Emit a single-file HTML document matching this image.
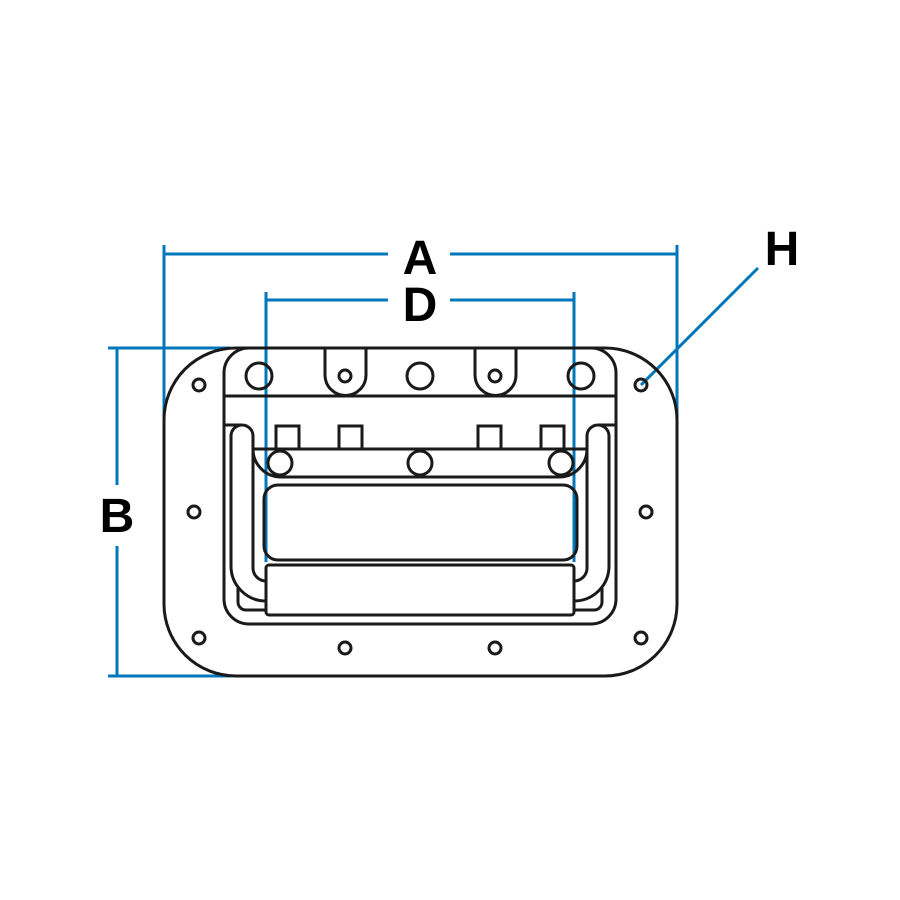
<!DOCTYPE html>
<html><head><style>html,body{margin:0;padding:0;background:#fff}svg{display:block}</style></head>
<body>
<svg width="900" height="900" viewBox="0 0 900 900" xmlns="http://www.w3.org/2000/svg">
<g fill="none" stroke="#0077bb" stroke-width="3">
<path d="M164 245V420M677 245V420M164 254H388M450 254H677"/>
<path d="M266 292V562M574 292V562M266 300H388M450 300H574"/>
<path d="M108 348H230M108 676H230M117 348V485M117 546V676"/>
<path d="M641 385L758 268"/>
</g>
<g font-family="'Liberation Sans',sans-serif" font-weight="bold" font-size="48" fill="#000" text-anchor="middle">
<text x="420" y="274">A</text>
<text x="420" y="321">D</text>
<text x="117" y="532">B</text>
<text x="782" y="265">H</text>
</g>
<g fill="none" stroke="#1a1a1a" stroke-width="3">
<rect x="164" y="348" width="513" height="328" rx="72"/>
<path d="M224 373A25 25 0 0 1 249 348H325V375A20.5 20.5 0 0 0 366 375V348H475V375A20.5 20.5 0 0 0 516 375V348H591A25 25 0 0 1 616 373V599A25 25 0 0 1 591 624H249A25 25 0 0 1 224 599Z"/>
<path d="M224 396H616"/>
<circle cx="259" cy="376" r="13"/><circle cx="420" cy="376" r="13"/><circle cx="581" cy="376" r="13"/>
<circle cx="345" cy="376" r="6"/><circle cx="495" cy="376" r="6"/>
<rect x="276" y="426" width="23" height="23"/><rect x="339" y="426" width="23" height="23"/>
<rect x="478" y="426" width="23" height="23"/><rect x="541" y="426" width="23" height="23"/>
<path d="M253 449H587"/>
<path d="M253 449A28 28 0 0 0 281 477H559A28 28 0 0 0 587 449"/>
<circle cx="280" cy="463" r="12"/><circle cx="420" cy="463" r="12"/><circle cx="561" cy="463" r="12"/>
<path d="M224 425H242M616 425H598"/>
<path d="M253 568V436A11 11 0 0 0 231 436V566A35 35 0 0 0 266 601"/>
<path d="M253 568A13 13 0 0 0 266 581"/>
<path d="M587 568V436A11 11 0 0 1 609 436V566A35 35 0 0 1 574 601"/>
<path d="M587 568A13 13 0 0 1 574 581"/>
<path d="M238 588V602A8 8 0 0 0 246 610H266"/>
<path d="M602 588V602A8 8 0 0 1 594 610H574"/>
<rect x="264" y="485" width="313" height="75" rx="14"/>
<rect x="266" y="565" width="308" height="50" rx="3"/>
<circle cx="199" cy="385" r="6"/><circle cx="194" cy="512" r="6"/><circle cx="199" cy="638" r="6"/>
<circle cx="345" cy="648" r="6"/><circle cx="495" cy="648" r="6"/>
<circle cx="641" cy="638" r="6"/><circle cx="646" cy="512" r="6"/><circle cx="641" cy="385" r="6"/>
</g>
</svg>
</body></html>
